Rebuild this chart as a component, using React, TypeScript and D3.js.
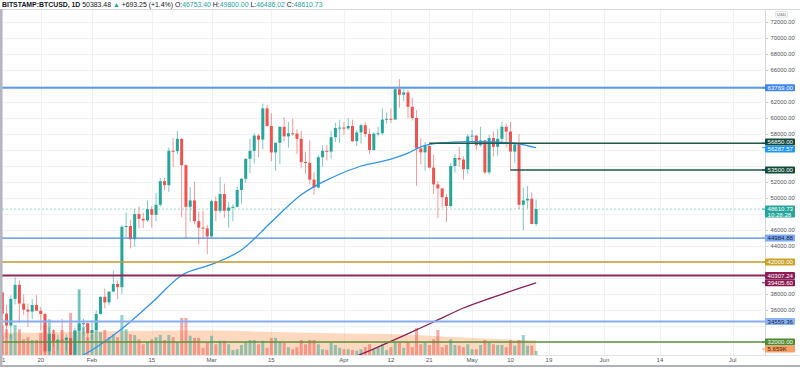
import * as d3 from "d3";
import { useEffect, useRef } from "react";

// daily candles, BITSTAMP:BTCUSD, starting 2021-01-11
const firstDay = "2021-01-11";

const opens = [
  38190, 35546, 34050, 37390, 39150, 36800, 36050, 35800, 36630, 35910, 35500, 30830, 33000, 32100, 32290, 32250, 32500, 30400, 33400, 34300, 34350,
  33100, 33500, 35500, 37650, 36950, 38300, 39250, 38850, 46400, 46500, 44850, 48000, 47400, 47200, 48600, 47900, 49150, 52100, 51600, 55900, 55850, 57400, 54100, 48900, 49700, 47100, 46300, 46200,
  45200, 49600, 48400, 50500, 48400, 48800, 48900, 51000, 52400, 54900, 55900, 57800, 57300, 61200, 59000, 55700, 56900, 58900, 57700, 58100, 58050, 57400, 54500, 54400, 52300, 51300, 55100, 55900, 55800, 57600, 58750,
  58800, 58700, 59000, 57100, 58200, 59100, 58000, 56000, 58050, 58100, 59800, 59900, 59800, 63600, 62900, 63200, 61400, 60000, 56200, 55700, 56500, 53800, 51700, 51200, 50100, 49000, 54000, 55000, 54800, 53600,
  57700, 57800, 56600, 57200, 53200, 57500, 56400, 57400, 58900, 58300, 55800, 56700, 49150, 49700, 49900, 46753.4,
];

const highs = [
  38264, 36627, 37850, 40100, 39700, 37950, 36800, 37400, 37850, 36400, 35600, 33800, 33600, 32950, 34900, 32950, 32550, 33800, 38500, 34900, 34400,
  34700, 35950, 37700, 38700, 38300, 40950, 39700, 46650, 48200, 47300, 48600, 48950, 48150, 49700, 49000, 50600, 52500, 52500, 56300, 57500, 58350, 57500, 54200, 51350, 52050, 48300, 48400, 46650,
  49800, 50200, 52600, 51800, 49500, 49200, 51400, 52500, 54950, 57400, 58100, 58000, 61800, 61600, 60600, 56900, 58950, 60100, 59500, 59900, 58600, 58400, 55800, 57200, 53200, 55300, 56600, 56600, 58400, 59400, 59800,
  59500, 60000, 59800, 58500, 59300, 59500, 58600, 58200, 58900, 61200, 60700, 61200, 63800, 64850, 63800, 63500, 62500, 61000, 57500, 57000, 56800, 55400, 52100, 51200, 50500, 54400, 55500, 56400, 55200, 58000,
  58500, 57900, 58900, 57300, 57900, 58300, 58600, 59500, 59300, 59500, 56900, 58000, 51300, 51500, 50700, 49800,
];

const lows = [
  30420, 32531, 32380, 36700, 34400, 35400, 33900, 34850, 35900, 33400, 30100, 28850, 31400, 30950, 31900, 30850, 29250, 29900, 31950, 32900, 32200,
  32300, 33450, 35400, 36200, 36600, 38200, 37350, 37950, 45000, 43700, 43900, 46200, 46250, 47000, 46300, 47100, 48900, 50950, 50750, 53900, 55500, 47600, 44900, 47000, 46700, 44200, 45000, 43000,
  45000, 47100, 48100, 47500, 46300, 47100, 48800, 49300, 51900, 53100, 54300, 55100, 56100, 58900, 54600, 53400, 54200, 57100, 56300, 57800, 55500, 53700, 53000, 51700, 50400, 51200, 53900, 54700, 54900, 57000, 56900,
  57900, 58500, 57000, 56500, 56800, 57600, 55500, 55900, 57700, 57900, 59300, 59400, 59800, 61300, 62100, 60000, 59700, 51500, 54200, 53400, 53700, 50500, 47500, 48800, 47000, 48800, 53200, 53900, 52300, 53000,
  57000, 56000, 56400, 53000, 52900, 55200, 55300, 56900, 56300, 53400, 54400, 48600, 46000, 48700, 46700, 46486.02,
];

const closes = [
  35546, 34050, 37390, 39150, 36800, 36050, 35800, 36630, 35910, 35500, 30830, 33000, 32100, 32290, 32250, 32500, 30400, 33400, 34300, 34350, 33100,
  33500, 35500, 37650, 36950, 38300, 39250, 38850, 46400, 46500, 44850, 48000, 47400, 47200, 48600, 47900, 49150, 52100, 51600, 55900, 55850, 57400, 54100, 48900, 49700, 47100, 46300, 46200, 45200,
  49600, 48400, 50500, 48400, 48800, 48900, 51000, 52400, 54900, 55900, 57800, 57300, 61200, 59000, 55700, 56900, 58900, 57700, 58100, 58050, 57400, 54500, 54400, 52300, 51300, 55100, 55900, 55800, 57600, 58750, 58800,
  58700, 59000, 57100, 58200, 59100, 58000, 56000, 58050, 58100, 59800, 59900, 59800, 63600, 62900, 63200, 61400, 60000, 56200, 55700, 56500, 53800, 51700, 51200, 50100, 49000, 54000, 55000, 54800, 53600, 57700,
  57800, 56600, 57200, 53200, 57500, 56400, 57400, 58900, 58300, 55800, 56700, 49150, 49700, 49900, 46753.4, 48610.73,
];

// volume in thousands of BTC
const volumes = [
  42, 36, 29, 42, 36, 22, 25, 21, 21, 31, 42, 50, 35, 21, 35, 25, 59, 35, 92, 39, 25,
  29, 35, 32, 35, 25, 29, 25, 56, 36, 29, 28, 22, 15, 18, 22, 25, 28, 21, 28, 25, 18, 52, 52, 27, 24, 24, 10, 18,
  27, 15, 20, 20, 15, 7, 8, 14, 17, 21, 21, 15, 20, 10, 24, 24, 18, 17, 11, 8, 11, 21, 15, 21, 21, 15, 8, 7, 17, 14, 10,
  8, 8, 7, 6, 8, 11, 15, 8, 11, 15, 7, 11, 18, 18, 10, 18, 11, 38, 15, 18, 14, 22, 35, 11, 14, 22, 14, 13, 11, 15,
  8, 8, 14, 21, 18, 15, 14, 14, 11, 21, 13, 21, 28, 13, 13, 5.659,
];

// moving averages
const maFastDates = ["2021-01-28", "2021-02-01", "2021-02-08", "2021-02-15", "2021-02-22", "2021-03-01", "2021-03-08", "2021-03-15", "2021-03-22", "2021-03-29", "2021-04-05", "2021-04-12", "2021-04-16", "2021-04-19", "2021-04-23", "2021-04-30", "2021-05-06", "2021-05-12", "2021-05-16"];
const maFastValues = [29800, 31000, 33650, 36900, 40350, 41700, 43500, 47000, 50400, 52500, 54000, 54850, 55600, 56400, 56850, 57050, 57000, 56750, 56287.57];

const maSlowDates = ["2021-04-01", "2021-04-08", "2021-04-15", "2021-04-22", "2021-04-29", "2021-05-06", "2021-05-12", "2021-05-16"];
const maSlowValues = [29600, 31150, 32800, 34500, 36250, 37600, 38700, 39405.6];

const volMaDates = ["2021-01-11", "2021-01-25", "2021-02-08", "2021-02-22", "2021-03-01", "2021-03-15", "2021-04-01", "2021-04-12", "2021-04-20", "2021-05-01", "2021-05-16"];
const volMaValues = [31, 32, 33.6, 34.3, 34.3, 32.2, 30.1, 29.4, 27.3, 23.8, 20.6];

// horizontal levels drawn on the chart
const levelPrices = [63769, 56850, 53500, 44984.88, 42000, 40307.24, 34559.36, 32000];
const levelStarts = [null, "2021-04-21", "2021-05-10", null, null, null, null, null];
const levelColors = ["#5d9bea", "#1d5a48", "#1d5a48", "#4d86e8", "#c39a2e", "#8e2a5f", "#85acf3", "#5f8f3a"];
const levelWidths = [2, 1.4, 1.4, 1.3, 1.4, 2, 2, 1.5];

const priceTicks = [32000, 34000, 36000, 38000, 40000, 42000, 44000, 46000, 48000, 50000, 52000, 54000, 56000, 58000, 60000, 62000, 64000, 66000, 68000, 70000, 72000];
const timeTicks = ["2021-01-11", "2021-01-20", "2021-02-01", "2021-02-15", "2021-03-01", "2021-03-15", "2021-04-01", "2021-04-12", "2021-04-21", "2021-05-01", "2021-05-10", "2021-05-19", "2021-06-01", "2021-06-14", "2021-07-01"];
const timeTickLabels = ["11", "20", "Feb", "15", "Mar", "15", "Apr", "12", "21", "May", "10", "19", "Jun", "14", "Jul"];

// price-scale badges
const badgeValues = [63769, 56850, 56287.57, 53500, 44984.88, 42000, 40307.24, 39405.6, 34559.36, 32000];
const badgeFills = ["#3f87e8", "#124a3a", "#2196f3", "#124a3a", "#7eaaf2", "#c9a227", "#8c1d57", "#8a1a52", "#8fb4f5", "#4b8a2e"];
const badgeText = ["#fff", "#fff", "#fff", "#fff", "#10224a", "#fff", "#fff", "#fff", "#10224a", "#fff"];

const lastPrice = 48610.73;
const lastVolume = 5.659;

const W = 800;
const H = 371;
const DAY = 864e5;
const font = "'Liberation Sans', Arial, sans-serif";

function App() {
  const ref = useRef<SVGSVGElement>(null);

  useEffect(() => {
    const svg = d3.select(ref.current);
    svg.selectAll("*").remove();

    const parse = d3.utcParse("%Y-%m-%d");
    const t0 = parse(firstDay)!.getTime();
    const days = closes.map((_, i) => d3.utcDay.offset(parse(firstDay)!, i));

    const left = 2;
    const right = 765;
    const top = 9.5;
    const bottom = 355;

    const x = d3
      .scaleUtc()
      .domain([new Date(t0 - 0.07 * DAY), new Date(t0 + 178.6 * DAY)])
      .range([left, right]);
    const y = d3.scaleLinear().domain([32000, 72000]).range([342, 22]);
    const yVol = d3.scaleLinear().domain([0, 70]).range([bottom, bottom - 50]);

    svg.append("rect").attr("width", W).attr("height", H).attr("fill", "#fff");

    svg
      .append("defs")
      .append("clipPath")
      .attr("id", "plot-clip")
      .append("rect")
      .attr("x", left)
      .attr("y", top)
      .attr("width", right - left)
      .attr("height", bottom - top);

    // grid
    const grid = svg.append("g").attr("stroke", "#f0f2f6").attr("stroke-width", 1);
    grid
      .selectAll("line.h")
      .data(priceTicks)
      .join("line")
      .attr("x1", left)
      .attr("x2", right)
      .attr("y1", (d) => Math.round(y(d)) + 0.5)
      .attr("y2", (d) => Math.round(y(d)) + 0.5);
    grid
      .selectAll("line.v")
      .data(timeTicks)
      .join("line")
      .attr("x1", (d) => Math.round(x(parse(d)!)) + 0.5)
      .attr("x2", (d) => Math.round(x(parse(d)!)) + 0.5)
      .attr("y1", top)
      .attr("y2", bottom);

    const plot = svg.append("g").attr("clip-path", "url(#plot-clip)");

    // volume moving average (area) and bars
    const volArea = d3
      .area<number>()
      .x((i) => x(parse(volMaDates[i])!))
      .y0(bottom)
      .y1((i) => yVol(volMaValues[i]))
      .curve(d3.curveMonotoneX);
    plot
      .append("path")
      .attr("d", volArea(d3.range(volMaValues.length)))
      .attr("fill", "rgba(255,140,60,0.33)");

    const up = (i: number) => closes[i] >= opens[i];
    const barW = 3;

    plot
      .append("g")
      .selectAll("rect")
      .data(d3.range(volumes.length))
      .join("rect")
      .attr("x", (i) => x(days[i]) - barW / 2)
      .attr("y", (i) => yVol(volumes[i]))
      .attr("width", barW)
      .attr("height", (i) => bottom - yVol(volumes[i]))
      .attr("fill", (i) => (up(i) ? "rgba(38,166,154,0.5)" : "rgba(239,83,80,0.5)"));

    // candles
    const candle = plot.append("g").selectAll("g").data(d3.range(closes.length)).join("g");
    candle
      .append("line")
      .attr("x1", (i) => x(days[i]))
      .attr("x2", (i) => x(days[i]))
      .attr("y1", (i) => y(highs[i]))
      .attr("y2", (i) => y(lows[i]))
      .attr("stroke", (i) => (up(i) ? "#26a69a" : "#ef5350"))
      .attr("stroke-opacity", 0.6)
      .attr("stroke-width", 1);
    candle
      .append("rect")
      .attr("x", (i) => x(days[i]) - barW / 2)
      .attr("y", (i) => y(Math.max(opens[i], closes[i])))
      .attr("width", barW)
      .attr("height", (i) => Math.max(1, Math.abs(y(opens[i]) - y(closes[i]))))
      .attr("fill", (i) => (up(i) ? "#26a69a" : "#ef5350"));

    // moving averages
    const maLine = (dates: string[], values: number[]) =>
      d3
        .line<number>()
        .x((i) => x(parse(dates[i])!))
        .y((i) => y(values[i]))
        .curve(d3.curveMonotoneX)(d3.range(values.length));

    plot
      .append("path")
      .attr("d", maLine(maFastDates, maFastValues))
      .attr("fill", "none")
      .attr("stroke", "#2f95f0")
      .attr("stroke-width", 1.3);
    plot
      .append("path")
      .attr("d", maLine(maSlowDates, maSlowValues))
      .attr("fill", "none")
      .attr("stroke", "#8e2157")
      .attr("stroke-width", 1.3);

    // horizontal levels
    plot
      .append("g")
      .selectAll("line")
      .data(d3.range(levelPrices.length))
      .join("line")
      .attr("x1", (i) => (levelStarts[i] ? x(parse(levelStarts[i] as string)!) : left))
      .attr("x2", right)
      .attr("y1", (i) => y(levelPrices[i]))
      .attr("y2", (i) => y(levelPrices[i]))
      .attr("stroke", (i) => levelColors[i])
      .attr("stroke-width", (i) => levelWidths[i]);

    // last price line
    plot
      .append("line")
      .attr("x1", left)
      .attr("x2", right)
      .attr("y1", y(lastPrice))
      .attr("y2", y(lastPrice))
      .attr("stroke", "#26a69a")
      .attr("stroke-opacity", 0.45)
      .attr("stroke-dasharray", "2,2");

    // badge positions (resolved first so covered tick labels can be skipped)
    const bh = 7;
    const badges = badgeValues.map((v, i) => ({ i, cy: y(v) }));
    badges.sort((a, b) => a.cy - b.cy);
    for (let k = 1; k < badges.length; k++) {
      const gap = badges[k].cy - badges[k - 1].cy;
      if (gap < bh) {
        const shift = (bh - gap) / 2;
        badges[k - 1].cy -= shift;
        badges[k].cy += shift;
      }
    }
    const volY = Math.min(yVol(lastVolume), bottom - 6);
    const covered: [number, number][] = badges.map((b) => [b.cy - bh / 2, b.cy + bh / 2]);
    covered.push([y(lastPrice) - bh / 2, y(lastPrice) - bh / 2 + 12]);
    covered.push([volY - bh / 2, volY + bh / 2]);
    const freeTicks = priceTicks.filter((t) => covered.every(([a, b]) => y(t) + 2.6 < a || y(t) - 2.6 > b));

    // price axis
    const axisG = svg.append("g");
    axisG.append("rect").attr("x", right).attr("y", top).attr("width", W - right).attr("height", bottom - top).attr("fill", "#fff");
    axisG
      .append("g")
      .attr("transform", `translate(${right},0)`)
      .call(
        d3
          .axisRight(y)
          .tickValues(freeTicks)
          .tickSize(3)
          .tickPadding(2.5)
          .tickFormat((d) => d3.format(".2f")(d as number))
      )
      .call((g) => g.select(".domain").remove())
      .call((g) => g.selectAll(".tick line").attr("stroke", "#c5c8d0"))
      .call((g) =>
        g.selectAll(".tick text").attr("font-family", font).attr("font-size", 5.8).attr("fill", "#50535e")
      );
    axisG
      .append("line")
      .attr("x1", right + 0.5)
      .attr("x2", right + 0.5)
      .attr("y1", top)
      .attr("y2", bottom)
      .attr("stroke", "#d6d8de");

    const badgeG = axisG.append("g").attr("font-family", font).attr("font-size", 6.1);
    const drawBadge = (cy: number, h: number, fill: string, color: string, lines: string[], lineY: number) => {
      badgeG
        .append("line")
        .attr("x1", right - 3)
        .attr("x2", right)
        .attr("y1", lineY)
        .attr("y2", lineY)
        .attr("stroke", fill);
      badgeG
        .append("rect")
        .attr("x", right)
        .attr("y", cy - bh / 2)
        .attr("width", 30)
        .attr("height", h)
        .attr("rx", 1)
        .attr("fill", fill);
      lines.forEach((t, k) =>
        badgeG
          .append("text")
          .attr("x", right + 2.5)
          .attr("y", cy + 2.2 + k * 5.8)
          .attr("fill", color)
          .text(t)
      );
    };
    badges.forEach((b) =>
      drawBadge(b.cy, bh, badgeFills[b.i], badgeText[b.i], [d3.format(".2f")(badgeValues[b.i])], y(badgeValues[b.i]))
    );
    drawBadge(y(lastPrice), 12, "#26a69a", "#fff", [d3.format(".2f")(lastPrice), "10:28:28"], y(lastPrice));
    drawBadge(volY, bh, "#f9a066", "#3a1c05", [d3.format(".3f")(lastVolume) + "K"], volY);

    // USD marker
    axisG
      .append("rect")
      .attr("x", 775.5)
      .attr("y", 11.3)
      .attr("width", 12)
      .attr("height", 5.8)
      .attr("rx", 1.5)
      .attr("fill", "#fff")
      .attr("stroke", "#c9ccd4")
      .attr("stroke-width", 0.6);
    axisG
      .append("text")
      .attr("x", 781.5)
      .attr("y", 15.8)
      .attr("text-anchor", "middle")
      .attr("font-family", font)
      .attr("font-size", 4.4)
      .attr("fill", "#50535e")
      .text("USD");

    // time axis
    svg
      .append("line")
      .attr("x1", left)
      .attr("x2", W)
      .attr("y1", bottom + 0.5)
      .attr("y2", bottom + 0.5)
      .attr("stroke", "#e0e3eb");
    svg
      .append("g")
      .attr("font-family", font)
      .attr("font-size", 6)
      .attr("fill", "#50535e")
      .attr("text-anchor", "middle")
      .selectAll("text")
      .data(d3.range(timeTicks.length))
      .join("text")
      .attr("x", (i) => x(parse(timeTicks[i])!))
      .attr("y", 362)
      .text((i) => timeTickLabels[i]);

    // frame
    svg.append("line").attr("x1", 2).attr("x2", W).attr("y1", top).attr("y2", top).attr("stroke", "#d6d8de");
    svg.append("rect").attr("x", 0).attr("y", top - 0.5).attr("width", 2.5).attr("height", 358).attr("fill", "#b4b7bf");
    svg.append("rect").attr("x", 0).attr("y", 365).attr("width", W).attr("height", 2).attr("fill", "#aeb1b9");

    // legend header
    const head = svg
      .append("text")
      .attr("x", 2)
      .attr("y", 7.3)
      .attr("font-family", font)
      .attr("font-size", 6.9)
      .attr("fill", "#131722");
    head.append("tspan").attr("font-weight", "bold").text("BITSTAMP:BTCUSD, 1D ");
    head.append("tspan").text("50383.48 ");
    head.append("tspan").attr("fill", "#26a69a").text("▲");
    head.append("tspan").text(" +693.25 (+1.4%) ");
    const ohlc: [string, string][] = [
      ["O:", "46753.40"],
      ["H:", "49800.00"],
      ["L:", "46486.02"],
      ["C:", "48610.73"],
    ];
    ohlc.forEach(([k, v]) => {
      head.append("tspan").text(k);
      head.append("tspan").attr("fill", "#26a69a").text(v + " ");
    });
  }, []);

  return (
    <svg
      ref={ref}
      width={W}
      height={H}
      style={{ position: "absolute", left: 0, top: 0, display: "block" }}
    />
  );
}

export default App;
